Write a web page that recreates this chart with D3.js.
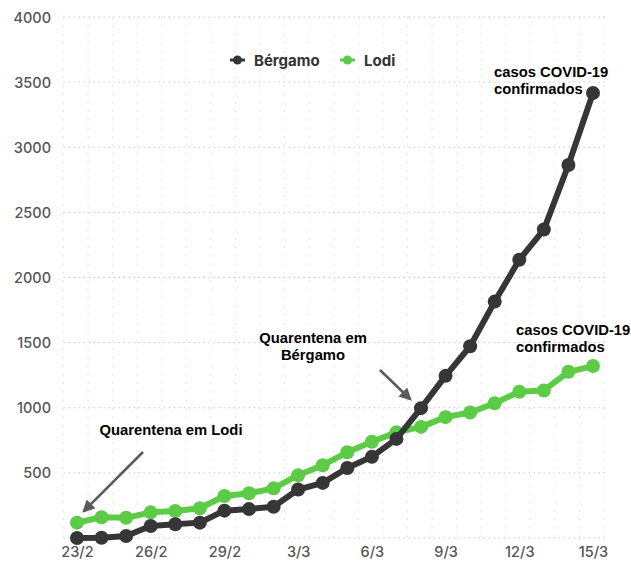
<!DOCTYPE html>
<html>
<head>
<meta charset="utf-8">
<script src="https://cdn.jsdelivr.net/npm/d3@7"></script>
<style>
    body { margin: 0; background: #fff; }
    .tick text { font-family: Inter, "Noto Sans", sans-serif; }
</style>
</head>
<body>
<div class="grafico"></div>
<script>
const dias = ["23/2", "24/2", "25/2", "26/2", "27/2", "28/2", "29/2",
    "1/3", "2/3", "3/3", "4/3", "5/3", "6/3", "7/3", "8/3", "9/3",
    "10/3", "11/3", "12/3", "13/3", "14/3", "15/3"];
const bergamo = [0, 2, 15, 92, 105, 118, 210, 222, 240, 372, 423, 537, 623, 761, 997, 1245, 1472, 1815, 2136, 2368, 2864, 3416];
const lodi = [118, 159, 155, 197, 207, 228, 322, 343, 381, 482, 559, 658, 739, 811, 853, 928, 963, 1035, 1123, 1133, 1276, 1320];
const diasRotulo = ["23/2", "26/2", "29/2", "3/3", "6/3", "9/3", "12/3", "15/3"];
const yTicks = [500, 1000, 1500, 2000, 2500, 3000, 3500, 4000];

const corBergamo = "#363636";
const corLodi = "#5ccb46";

const width = 631;
const height = 562;

const svg = d3.select(".grafico")
    .append("svg")
    .attr("width", width)
    .attr("height", height);

const xScale = d3.scaleLinear().domain([0, dias.length - 1]).range([77, 593]);
const yScale = d3.scaleLinear().domain([0, 4000]).range([538, 17]);

// grade pontilhada
const grade = svg.append("g");
d3.range(0, 4001, 500).forEach(v => {
    grade.append("line")
        .attr("x1", xScale(-0.55)).attr("x2", xScale(21.5))
        .attr("y1", yScale(v)).attr("y2", yScale(v))
        .attr("stroke", "#c8c8c8").attr("stroke-width", 1)
        .attr("stroke-dasharray", "1.5,3.5");
});
d3.range(-0.55, 22, 1).forEach(d => {
    grade.append("line")
        .attr("x1", xScale(d)).attr("x2", xScale(d))
        .attr("y1", yScale(4000)).attr("y2", yScale(0))
        .attr("stroke", "#dcdcdc").attr("stroke-width", 1)
        .attr("stroke-dasharray", "1.5,7");
});

// eixos
const eixoY = svg.append("g")
    .attr("transform", "translate(51,0)")
    .call(d3.axisLeft(yScale).tickValues(yTicks).tickSize(0).tickPadding(0).tickFormat(d3.format("d")));
eixoY.select(".domain").remove();
eixoY.selectAll("text").attr("fill", "#555").attr("font-size", 14.5).attr("font-weight", 500).attr("dy", "0.35em");

const eixoX = svg.append("g")
    .attr("transform", "translate(0,546)")
    .call(d3.axisBottom(xScale).tickValues(diasRotulo.map(d => dias.indexOf(d)))
        .tickFormat(i => dias[i]).tickSize(0).tickPadding(0));
eixoX.select(".domain").remove();
eixoX.selectAll("text").attr("fill", "#555").attr("font-size", 14.5).attr("font-weight", 500).attr("dy", "0.75em");

const line = d3.line().x((d, i) => xScale(i)).y(d => yScale(d));

function serie(dados, cor) {
    svg.append("path")
        .datum(dados)
        .attr("fill", "none")
        .attr("stroke", cor)
        .attr("stroke-width", 6)
        .attr("stroke-linejoin", "round")
        .attr("d", line);

    svg.append("g").selectAll("circle")
        .data(dados)
        .enter().append("circle")
        .attr("cx", (d, i) => xScale(i))
        .attr("cy", d => yScale(d))
        .attr("r", 7)
        .attr("fill", cor);
}

serie(lodi, corLodi);
serie(bergamo, corBergamo);

// legenda
const legenda = [
    { nome: "Bérgamo", cor: corBergamo, x: 230 },
    { nome: "Lodi", cor: corLodi, x: 340 }
];
legenda.forEach(l => {
    svg.append("line")
        .attr("x1", l.x).attr("x2", l.x + 15)
        .attr("y1", 60).attr("y2", 60)
        .attr("stroke", l.cor).attr("stroke-width", 3);
    svg.append("circle")
        .attr("cx", l.x + 7.5).attr("cy", 60).attr("r", 4.5)
        .attr("fill", l.cor);
    svg.append("text")
        .attr("x", l.x + 24).attr("y", 65.5)
        .attr("font-family", "Inter, 'Noto Sans', sans-serif")
        .attr("font-weight", "bold")
        .attr("font-size", 15)
        .attr("fill", "#333")
        .text(l.nome);
});

// anotações
svg.append("defs").append("marker")
    .attr("id", "seta")
    .attr("viewBox", "0 0 10 10")
    .attr("refX", 8).attr("refY", 5)
    .attr("markerWidth", 5).attr("markerHeight", 5)
    .attr("orient", "auto")
    .append("path")
    .attr("d", "M0,0 L10,5 L0,10 z")
    .attr("fill", "#5a5a5a");

function texto(linhas, x, y, anchor) {
    const t = svg.append("text")
        .attr("x", x).attr("y", y)
        .attr("font-family", "'Liberation Sans', Arial, sans-serif")
        .attr("font-weight", "bold")
        .attr("font-size", 14.8)
        .attr("text-anchor", anchor)
        .attr("fill", "#000");
    linhas.forEach((s, i) => {
        t.append("tspan").attr("x", x).attr("dy", i === 0 ? 0 : 17).text(s);
    });
}

texto(["casos COVID-19", "confirmados"], 494, 77, "start");
texto(["casos COVID-19", "confirmados"], 516, 335, "start");
texto(["Quarentena em", "Bérgamo"], 313, 343, "middle");
texto(["Quarentena em Lodi"], 171, 435, "middle");

svg.append("line")
    .attr("x1", 143).attr("y1", 452).attr("x2", 84).attr("y2", 511)
    .attr("stroke", "#5a5a5a").attr("stroke-width", 2.5)
    .attr("marker-end", "url(#seta)");
svg.append("line")
    .attr("x1", 380).attr("y1", 370).attr("x2", 410).attr("y2", 399)
    .attr("stroke", "#5a5a5a").attr("stroke-width", 2.5)
    .attr("marker-end", "url(#seta)");
</script>
</body>
</html>
